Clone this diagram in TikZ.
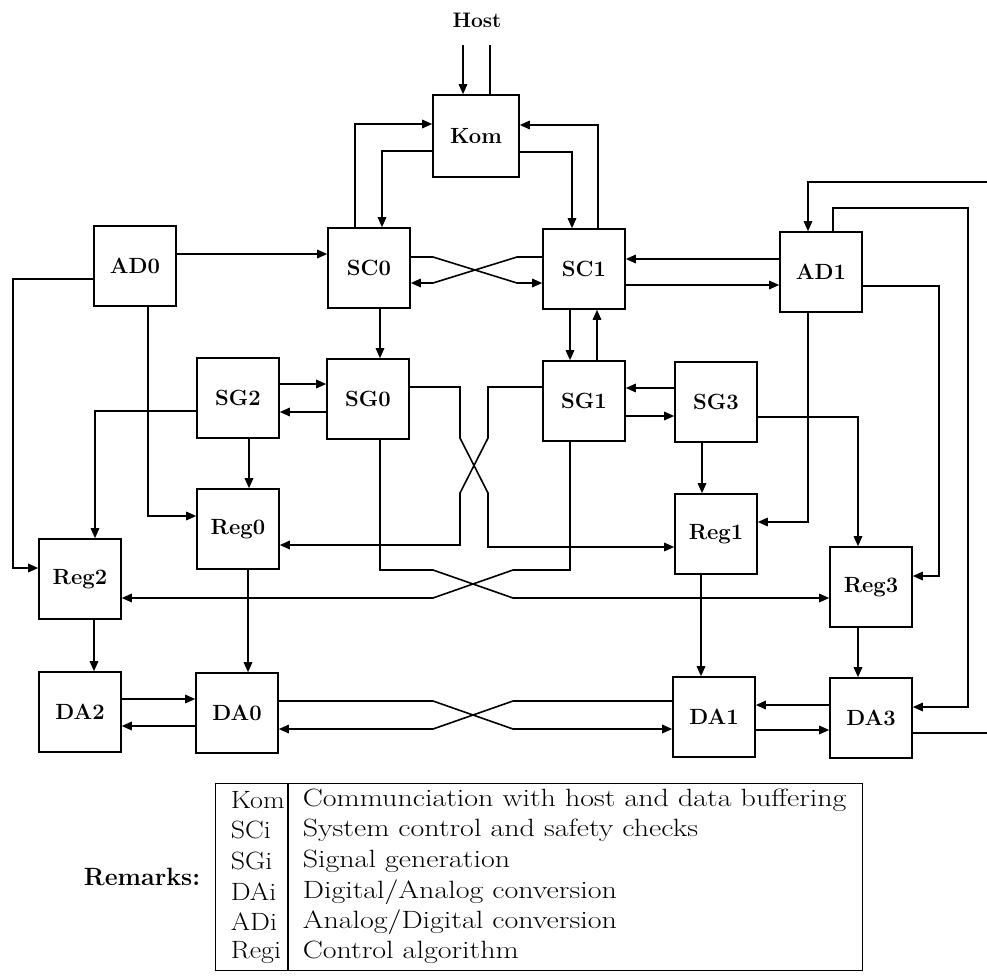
\documentclass[tikz,border=0pt]{standalone}
\usetikzlibrary{arrows.meta}
\newcommand\lgtxt[1]{\scalebox{1.2}[1]{#1}}
\newcommand\lgkey[1]{\scalebox{1.12}[1]{#1}}
\begin{document}
\begin{tikzpicture}[x=1pt,y=-1pt,
  line width=1.6pt,
  blk/.style={draw,line width=1.6pt,minimum width=82pt,minimum height=80pt,inner sep=0pt,
    font=\bfseries\fontsize{22}{26}\selectfont},
  arr/.style={-{Triangle[length=10pt,width=8.5pt]}},
  lg/.style={anchor=west,inner sep=0pt,font=\fontsize{25}{29}\selectfont}]
\useasboundingbox (0,0) rectangle (987,975);
% blocks
\node[blk,minimum width=86pt,minimum height=82pt] (Kom) at (476,136) {Kom};
\node[blk] (SC0) at (369,268) {SC0};
\node[blk] (SC1) at (584,269) {SC1};
\node[blk] (AD0) at (135,266) {AD0};
\node[blk] (AD1) at (821,272) {AD1};
\node[blk] (SG2) at (238,398) {SG2};
\node[blk] (SG0) at (368,399) {SG0};
\node[blk] (SG1) at (584,401) {SG1};
\node[blk] (SG3) at (716,402) {SG3};
\node[blk] (Reg0) at (238,529) {Reg0};
\node[blk] (Reg1) at (716,534) {Reg1};
\node[blk] (Reg2) at (80,579) {Reg2};
\node[blk] (Reg3) at (871,587) {Reg3};
\node[blk] (DA2) at (80,712) {DA2};
\node[blk] (DA0) at (237,713) {DA0};
\node[blk] (DA1) at (714,717) {DA1};
\node[blk] (DA3) at (871,718) {DA3};
\node[font=\bfseries\fontsize{21}{25}\selectfont] (host) at (477,20) {Host};
% host
\coordinate (h1) at (463,45);
\coordinate (h2) at (490,45);
\draw[arr] (h1) -- (Kom.north -| h1);
\draw (Kom.north -| h2) -- (h2);
% Kom <-> SC
\draw[arr] (SC0.north -| 355,0) |- (Kom.west |- 0,124);
\draw[arr] (Kom.west |- 0,151) -| (SC0.north -| 382,0);
\draw[arr] (Kom.east |- 0,152) -| (SC1.north -| 572,0);
\draw[arr] (SC1.north -| 598,0) |- (Kom.east |- 0,125);
% SC0 <-> SC1
\draw[arr] (SC0.east |- 0,257) -- (433,257) -- (517,283) -- (SC1.west |- 0,283);
\draw[arr] (SC1.west |- 0,257) -- (517,257) -- (433,283) -- (SC0.east |- 0,283);
% AD0
\draw[arr] (AD0.east |- 0,254) -- (SC0.west |- 0,254);
\draw[arr] (AD0.west |- 0,279) -| (13,568) -- (Reg2.west |- 0,568);
\draw[arr] (AD0.south -| 148,0) |- (Reg0.west |- 0,516);
% SC0 -> SG0
\draw[arr] (SC0.south -| 380,0) -- (SG0.north -| 380,0);
% SG2 / SG0
\draw[arr] (SG2.east |- 0,384) -- (SG0.west |- 0,384);
\draw[arr] (SG0.west |- 0,412) -- (SG2.east |- 0,412);
\draw[arr] (SG2.west |- 0,411) -| (Reg2.north -| 95,0);
\draw[arr] (SG2.south -| 249,0) -- (Reg0.north -| 249,0);
% crossings SG0/SG1 -> Reg
\draw[arr] (SG0.east |- 0,387) -- (460,387) -- (460,438) -- (488,493) -- (488,547) -- (Reg1.west |- 0,547);
\draw[arr] (SG1.west |- 0,387) -- (488,387) -- (488,438) -- (460,493) -- (460,545) -- (Reg0.east |- 0,545);
\draw[arr] (SG0.south -| 380,0) -- (380,570) -- (433,570) -- (513,598) -- (Reg3.west |- 0,598);
\draw[arr] (SG1.south -| 570,0) -- (570,570) -- (513,570) -- (433,598) -- (Reg2.east |- 0,598);
% SC1 <-> SG1
\draw[arr] (SC1.south -| 570,0) -- (SG1.north -| 570,0);
\draw[arr] (SG1.north -| 597,0) -- (SC1.south -| 597,0);
% AD1 <-> SC1
\draw[arr] (AD1.west |- 0,259) -- (SC1.east |- 0,259);
\draw[arr] (SC1.east |- 0,285) -- (AD1.west |- 0,285);
% SG3 <-> SG1
\draw[arr] (SG3.west |- 0,388) -- (SG1.east |- 0,388);
\draw[arr] (SG1.east |- 0,416) -- (SG3.west |- 0,416);
% SG3
\draw[arr] (SG3.south -| 702,0) -- (Reg1.north -| 702,0);
\draw[arr] (SG3.east |- 0,417) -| (Reg3.north -| 858,0);
% AD1
\draw[arr] (AD1.south -| 808,0) |- (Reg1.east |- 0,522);
\draw[arr] (AD1.east |- 0,286) -| (939,576) -- (Reg3.east |- 0,576);
\coordinate (e1) at (987,182);
\draw[arr] (e1) -| (AD1.north -| 808,0);
\draw[arr] (AD1.north -| 833,0) |- (968,208) |- (DA3.east |- 0,707);
\coordinate (e2) at (987,733);
\draw (DA3.east |- 0,733) -- (e2);
% Reg -> DA
\draw[arr] (Reg2.south -| 94,0) -- (DA2.north -| 94,0);
\draw[arr] (Reg0.south -| 248,0) -- (DA0.north -| 248,0);
\draw[arr] (Reg1.south -| 701,0) -- (DA1.north -| 701,0);
\draw[arr] (Reg3.south -| 858,0) -- (DA3.north -| 858,0);
% DA links
\draw[arr] (DA2.east |- 0,699) -- (DA0.west |- 0,699);
\draw[arr] (DA0.west |- 0,726) -- (DA2.east |- 0,726);
\draw[arr] (DA0.east |- 0,701) -- (433,701) -- (513,729) -- (DA1.west |- 0,729);
\draw[arr] (DA1.west |- 0,701) -- (513,701) -- (433,729) -- (DA0.east |- 0,729);
\draw[arr] (DA3.west |- 0,705) -- (DA1.east |- 0,705);
\draw[arr] (DA1.east |- 0,730) -- (DA3.west |- 0,730);
% legend
\node[draw,line width=1.3pt,minimum width=647pt,minimum height=187pt,anchor=north west,inner sep=0pt] (leg) at (215,783) {};
\draw[line width=1.3pt] (leg.north -| 288,0) -- (leg.south -| 288,0);
\node[font=\bfseries\fontsize{25}{29}\selectfont] (rem) at (142,877) {Remarks:};
\node[lg] (k1) at (230,800) {\lgkey{Kom}};
\node[lg] (k2) at (230,830) {\lgkey{SCi}};
\node[lg] (k3) at (230,861) {\lgkey{SGi}};
\node[lg] (k4) at (230,892) {\lgkey{DAi}};
\node[lg] (k5) at (230,922) {\lgkey{ADi}};
\node[lg] (k6) at (230,952) {\lgkey{Regi}};
\node[lg] (d1) at (302,800) {\lgtxt{Communciation with host and data buffering}};
\node[lg] (d2) at (302,830) {\lgtxt{System control and safety checks}};
\node[lg] (d3) at (302,861) {\lgtxt{Signal generation}};
\node[lg] (d4) at (302,892) {\lgtxt{Digital/Analog conversion}};
\node[lg] (d5) at (302,922) {\lgtxt{Analog/Digital conversion}};
\node[lg] (d6) at (302,952) {\lgtxt{Control algorithm}};
\end{tikzpicture}
\end{document}
